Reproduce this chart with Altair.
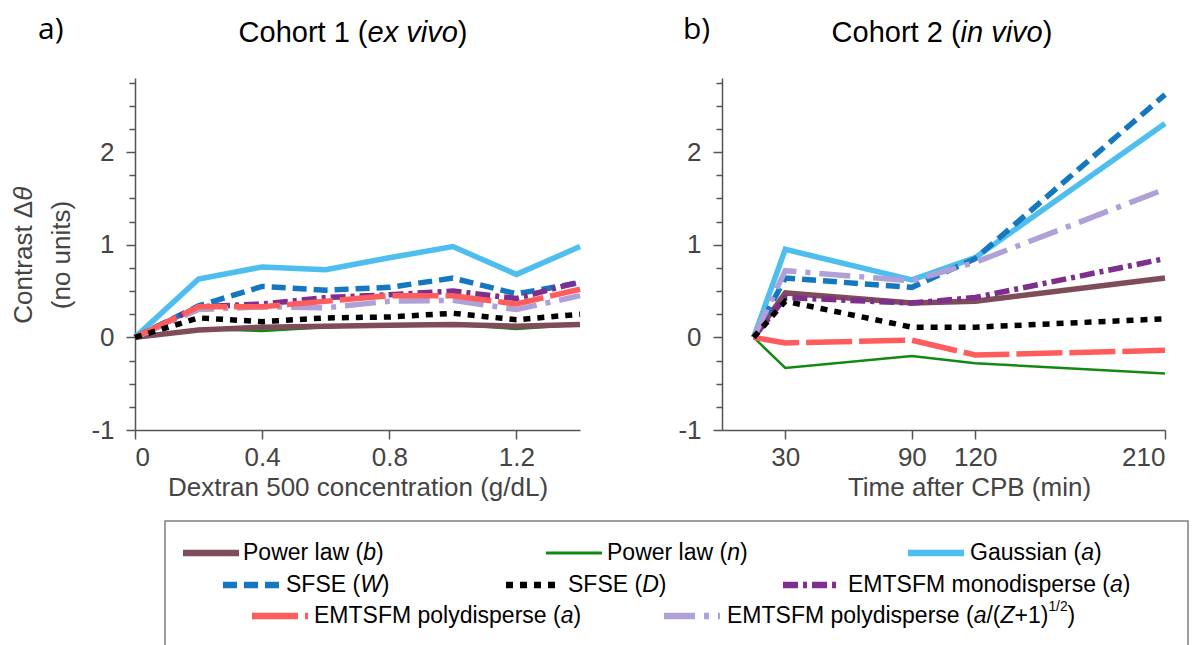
import altair as alt
import pandas as pd

# ---------------- data ----------------
SERIES = ["Power law (b)", "Power law (n)", "Gaussian (a)", "SFSE (W)", "SFSE (D)",
          "EMTSFM monodisperse (a)", "EMTSFM polydisperse (a)",
          "EMTSFM polydisperse (a/(Z+1)^1/2)"]

# Cohort 1 (ex vivo): Dextran 500 concentration (g/dL)
conc = [0, 0.2, 0.4, 0.6, 0.8, 1.0, 1.2, 1.4]
c1_power_b = [0, 0.08, 0.11, 0.12, 0.13, 0.14, 0.12, 0.14]
c1_power_n = [0, 0.09, 0.07, 0.11, 0.13, 0.14, 0.09, 0.14]
c1_gauss = [0, 0.63, 0.76, 0.73, 0.86, 0.98, 0.68, 0.98]
c1_sfse_w = [0, 0.34, 0.55, 0.51, 0.54, 0.64, 0.47, 0.59]
c1_sfse_d = [0, 0.21, 0.17, 0.21, 0.22, 0.26, 0.19, 0.25]
c1_mono = [0, 0.33, 0.36, 0.43, 0.46, 0.50, 0.42, 0.60]
c1_poly = [0, 0.33, 0.33, 0.39, 0.45, 0.45, 0.36, 0.52]
c1_polyz = [0, 0.30, 0.33, 0.32, 0.39, 0.40, 0.30, 0.45]

# Cohort 2 (in vivo): time after CPB (min)
time_min = [15, 30, 90, 120, 210]
c2_power_b = [0, 0.48, 0.37, 0.39, 0.64]
c2_power_n = [0, -0.33, -0.20, -0.28, -0.39]
c2_gauss = [0, 0.95, 0.62, 0.86, 2.31]
c2_sfse_w = [0, 0.64, 0.54, 0.85, 2.62]
c2_sfse_d = [0, 0.39, 0.11, 0.11, 0.20]
c2_mono = [0, 0.43, 0.37, 0.43, 0.85]
c2_poly = [0, -0.06, -0.03, -0.19, -0.14]
c2_polyz = [0, 0.72, 0.61, 0.81, 1.60]

x1_ticks = [0, 0.4, 0.8, 1.2]
x2_ticks = [30, 90, 120, 210]

C1 = dict(zip(SERIES, [c1_power_b, c1_power_n, c1_gauss, c1_sfse_w, c1_sfse_d, c1_mono, c1_poly, c1_polyz]))
C2 = dict(zip(SERIES, [c2_power_b, c2_power_n, c2_gauss, c2_sfse_w, c2_sfse_d, c2_mono, c2_poly, c2_polyz]))

# ---------------- styles ----------------
STYLE = {
    SERIES[0]: dict(color="#7f4d59", w=5.5, dash=None),
    SERIES[1]: dict(color="#128a12", w=2.5, dash=None),
    SERIES[2]: dict(color="#4dbeee", w=5.5, dash=None),
    SERIES[3]: dict(color="#1577c0", w=5.5, dash=[14, 7]),
    SERIES[4]: dict(color="#000000", w=5.5, dash=[7, 7]),
    SERIES[5]: dict(color="#7e2f8e", w=5.5, dash=[15, 5, 4, 5]),
    SERIES[6]: dict(color="#ff5c5c", w=5.5, dash=[46, 7]),
    SERIES[7]: dict(color="#b0a0d8", w=5.5, dash=[31, 9, 5, 9]),
}
DRAW_ORDER = [SERIES[1], SERIES[0], SERIES[2], SERIES[3], SERIES[5], SERIES[7], SERIES[6], SERIES[4]]

FONT = "Liberation Sans"
LEG_SIZE = 23
AXIS_GRAY = "#555555"
TEXT_GRAY = "#444444"

PAD_L, PAD_T, W, H = 135, 78, 1030, 352
A_RANGE = [0, 445]
B_RANGE = [587, 1030]

YSCALE = alt.Scale(domain=[-1, 2.8], nice=False, zero=False)
yvals = [-1 + 0.25 * i for i in range(16)]

ONE = pd.DataFrame({"k": [0]})

# Arial / Liberation Sans advance widths (1/1000 em)
AW = {' ': 278, '(': 333, ')': 333, '+': 584, '/': 278, '0': 556, '1': 556, '2': 556, '5': 556,
      'C': 722, 'D': 722, 'E': 667, 'F': 611, 'G': 778, 'L': 556, 'M': 833, 'P': 667, 'S': 667,
      'T': 611, 'W': 944, 'Z': 611, 'a': 556, 'b': 556, 'c': 500, 'd': 556, 'e': 556, 'g': 556,
      'h': 556, 'i': 222, 'l': 222, 'm': 833, 'n': 556, 'o': 556, 'p': 556, 'r': 333, 's': 500,
      't': 278, 'u': 556, 'v': 500, 'w': 722, 'x': 500, 'y': 500, '\u0394': 668, '\u03b8': 556}


def tw(s, size):
    return sum(AW.get(c, 556) for c in s) * size / 1000.0


def seg_layers(parts, x0, y0, size, font=FONT, color="black", angle=0, anchor="left"):
    sizes = [size * 0.6 if k == "sup" else size for _, k in parts]
    widths = [tw(t, s) for (t, _), s in zip(parts, sizes)]
    total = sum(widths)
    cur = -total / 2 if anchor == "center" else 0
    out = []
    for (t, k), s, w in zip(parts, sizes, widths):
        style = "italic" if k == "i" else "normal"
        rise = size * 0.38 if k == "sup" else 0
        if angle == 0:
            px, py = x0 + cur, y0 - rise
        else:
            px, py = x0 - rise, y0 - cur
        out.append(alt.Chart(ONE).mark_text(
            align="left", baseline="middle", font=font, fontSize=s, fontStyle=style,
            color=color, angle=angle, text=t).encode(x=alt.value(px), y=alt.value(py)))
        cur += w
    return out


def y_axis(offset=0):
    kw = dict(values=yvals, title=None, orient="left", grid=False,
              labelExpr="datum.value % 1 === 0 ? (datum.value < 0 ? '-' + abs(datum.value) : '' + datum.value) : ''",
              tickSize={"condition": {"test": "datum.value % 1 === 0", "value": 9}, "value": 6},
              labelPadding=12)
    if offset:
        kw["offset"] = offset
    return alt.Axis(**kw)


def panel(xs, field, data_map, xscale, xaxis, yaxis):
    layers = []
    for name in DRAW_ORDER:
        st = STYLE[name]
        df = pd.DataFrame({field: xs, "contrast": data_map[name]})
        kw = dict(color=st["color"], strokeWidth=st["w"], strokeCap="butt")
        if st["dash"]:
            kw["strokeDash"] = st["dash"]
        layers.append(alt.Chart(df).mark_line(**kw).encode(
            x=alt.X(f"{field}:Q", scale=xscale, axis=xaxis),
            y=alt.Y("contrast:Q", scale=YSCALE, axis=yaxis)))
    return alt.layer(*layers)


xaxisA = alt.Axis(values=x1_ticks, title="Dextran 500 concentration (g/dL)", orient="bottom",
                  grid=False, tickSize=9, labelPadding=5, titlePadding=4, labelExpr="'' + datum.value")
xaxisB = alt.Axis(values=x2_ticks, title="Time after CPB (min)", orient="bottom",
                  grid=False, tickSize=9, labelPadding=5, titlePadding=4, titleX=834,
                  labelExpr="'' + datum.value")

panelA = panel(conc, "conc", C1, alt.Scale(domain=[0, 1.4], range=A_RANGE, nice=False, zero=False),
               xaxisA, y_axis(0))
panelB = panel(time_min, "time", C2, alt.Scale(domain=[0, 210], range=B_RANGE, nice=False, zero=False),
               xaxisB, y_axis(-B_RANGE[0]))

ann = []
# panel letters
ann.append(alt.Chart(ONE).mark_text(align="left", baseline="middle", font="Open Sans", fontSize=30,
                                    color="black", text="a)").encode(x=alt.value(38 - PAD_L), y=alt.value(30 - PAD_T)))
ann.append(alt.Chart(ONE).mark_text(align="left", baseline="middle", font="Open Sans", fontSize=30,
                                    color="black", text="b)").encode(x=alt.value(683 - PAD_L), y=alt.value(30 - PAD_T)))
# panel titles
ann += seg_layers([("Cohort 1 (", "n"), ("ex vivo", "i"), (")", "n")], 353 - PAD_L, 33 - PAD_T, 29, anchor="center")
ann += seg_layers([("Cohort 2 (", "n"), ("in vivo", "i"), (")", "n")], 942 - PAD_L, 33 - PAD_T, 29, anchor="center")
# y title
ann += seg_layers([("Contrast \u0394", "n"), ("\u03b8", "i")], 24 - PAD_L, 255 - PAD_T, 26,
                  color=TEXT_GRAY, angle=270, anchor="center")
ann += seg_layers([("(no units)", "n")], 62 - PAD_L, 255 - PAD_T, 26, color=TEXT_GRAY, angle=270, anchor="center")

# legend
ann.append(alt.Chart(ONE).mark_rect(fillOpacity=0, stroke="#808080", strokeWidth=1.5).encode(
    x=alt.value(165 - PAD_L), x2=alt.value(1188 - PAD_L), y=alt.value(521 - PAD_T), y2=alt.value(680 - PAD_T)))

LEG_POS = [(183, 239, 243, 553), (546, 602, 607, 553), (908, 964, 970, 553),
           (223, 282, 286, 585), (506, 562, 568, 585), (783, 839, 848, 585),
           (252, 308, 314, 616), (664, 720, 727, 616)]
LEG_PARTS = [
    [("Power law (", "n"), ("b", "i"), (")", "n")],
    [("Power law (", "n"), ("n", "i"), (")", "n")],
    [("Gaussian (", "n"), ("a", "i"), (")", "n")],
    [("SFSE (", "n"), ("W", "i"), (")", "n")],
    [("SFSE (", "n"), ("D", "i"), (")", "n")],
    [("EMTSFM monodisperse (", "n"), ("a", "i"), (")", "n")],
    [("EMTSFM polydisperse (", "n"), ("a", "i"), (")", "n")],
    [("EMTSFM polydisperse (", "n"), ("a", "i"), ("/(", "n"), ("Z", "i"), ("+1)", "n"), ("1/2", "sup"), (")", "n")],
]
for name, (sx1, sx2, tx, ry), parts in zip(SERIES, LEG_POS, LEG_PARTS):
    st = STYLE[name]
    kw = dict(color=st["color"], strokeWidth=st["w"] + 1 if st["w"] > 3 else st["w"] + 0.5, strokeCap="butt")
    if st["dash"]:
        kw["strokeDash"] = st["dash"]
    ann.append(alt.Chart(ONE).mark_rule(**kw).encode(
        x=alt.value(sx1 - PAD_L), x2=alt.value(sx2 - PAD_L), y=alt.value(ry - PAD_T)))
    ann += seg_layers(parts, tx - PAD_L, ry - PAD_T, LEG_SIZE)

chart = alt.layer(panelA, panelB, *ann).resolve_scale(x="independent", y="independent").properties(
    width=W, height=H,
    autosize=alt.AutoSizeParams(type="none"),
    padding={"left": PAD_L, "top": PAD_T, "right": 1196 - PAD_L - W, "bottom": 645 - PAD_T - H},
).configure_view(strokeWidth=0).configure_axis(
    domainColor=AXIS_GRAY, tickColor=AXIS_GRAY, domainWidth=1.5, tickWidth=1.5,
    labelColor=TEXT_GRAY, titleColor=TEXT_GRAY, labelFont=FONT, titleFont=FONT,
    labelFontSize=26, titleFontSize=26, titleFontWeight="normal",
)

chart.save("out.html", embed_options={"renderer": "svg", "actions": False})
